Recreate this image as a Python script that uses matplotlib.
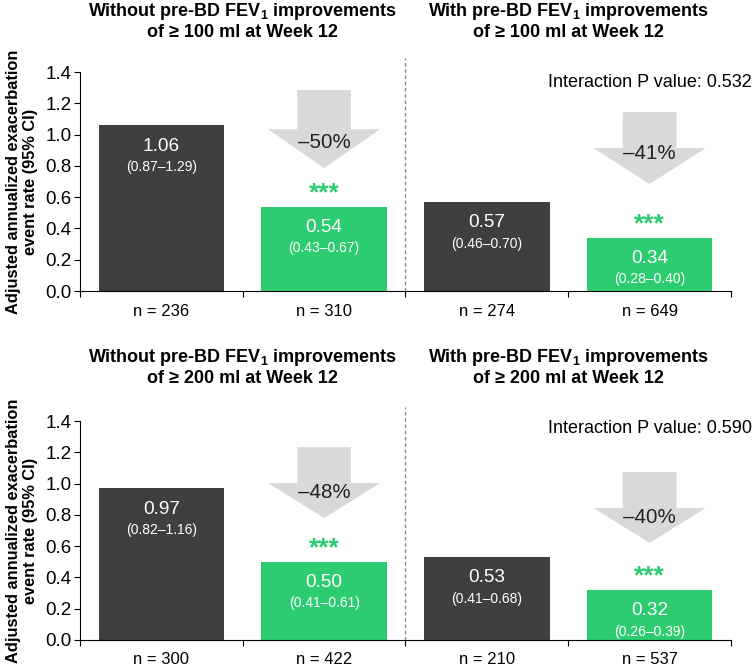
import matplotlib.pyplot as plt
from matplotlib.patches import Polygon

plt.rcParams['font.family'] = ['Liberation Sans', 'DejaVu Sans']
plt.rcParams['mathtext.fontset'] = 'custom'
plt.rcParams['mathtext.rm'] = 'Liberation Sans'
plt.rcParams['mathtext.bf'] = 'Liberation Sans:bold'

# datos de los dos paneles (100 ml arriba, 200 ml abajo)
umbrales = ["100", "200"]
tasas = [[1.06, 0.54, 0.57, 0.34],
         [0.97, 0.50, 0.53, 0.32]]
ic = [["(0.87–1.29)", "(0.43–0.67)", "(0.46–0.70)", "(0.28–0.40)"],
      ["(0.82–1.16)", "(0.41–0.61)", "(0.41–0.68)", "(0.26–0.39)"]]
n_pacientes = [["n = 236", "n = 310", "n = 274", "n = 649"],
               ["n = 300", "n = 422", "n = 210", "n = 537"]]
reducciones = [["–50%", "–41%"], ["–48%", "–40%"]]
p_interaccion = ["0.532", "0.590"]

gris_oscuro = "#3f3f3f"
verde = "#2ecc71"
gris_flecha = "#d9d9d9"
colores = [gris_oscuro, verde, gris_oscuro, verde]

# flechas: (y arriba del tallo, y inicio cabeza, y punta, y texto), una por grupo
flechas = [[(1.285, 1.035, 0.786, 0.952), (1.144, 0.914, 0.684, 0.882)],
           [(1.233, 1.003, 0.780, 0.940), (1.074, 0.844, 0.620, 0.780)]]
estrellas_y = [[0.625, 0.428], [0.588, 0.408]]
p_y = [1.335, 1.355]

fig = plt.figure(figsize=(7.53, 6.67), dpi=100)
posiciones = [[0.1062, 0.5637, 0.8646, 0.3283], [0.1062, 0.0405, 0.8646, 0.3283]]

for k in range(2):
    ax = fig.add_axes(posiciones[k])
    x = [0, 1, 2, 3]
    ax.bar(x, tasas[k], width=0.77, color=colores, zorder=2)
    ax.set_xlim(-0.5, 3.5)
    ax.set_ylim(0, 1.4)
    ax.set_yticks([0, 0.2, 0.4, 0.6, 0.8, 1.0, 1.2, 1.4])
    ax.set_yticklabels([f"{v:.1f}" for v in ax.get_yticks()], fontsize=13.5)
    ax.set_xticks(x)
    ax.set_xticklabels(n_pacientes[k], fontsize=12)
    ax.set_xticks([-0.5, 0.5, 1.5, 2.5, 3.5], minor=True)
    ax.tick_params(axis='x', which='major', length=0, pad=9)
    ax.tick_params(axis='x', which='minor', length=4, width=0.8)
    ax.tick_params(axis='y', length=4, width=0.8, pad=2)
    ax.spines['top'].set_visible(False)
    ax.spines['right'].set_visible(False)
    ax.spines['left'].set_linewidth(0.8)
    ax.spines['bottom'].set_linewidth(0.8)
    ax.set_ylabel("Adjusted annualized exacerbation\nevent rate (95% CI)",
                  fontsize=11.8, fontweight='bold', labelpad=5, linespacing=1.2)

    # etiquetas dentro de las barras
    for i in range(4):
        ax.annotate(f"{tasas[k][i]:.2f}", (x[i], tasas[k][i]), xytext=(0, -15),
                    textcoords='offset points', ha='center', va='center',
                    color='white', fontsize=13.7)
        ax.annotate(ic[k][i], (x[i], tasas[k][i]), xytext=(0, -30),
                    textcoords='offset points', ha='center', va='center',
                    color='white', fontsize=10)

    # linea punteada que separa los grupos
    ax.plot([1.5, 1.5], [0, 1.49], ls=(0, (2.5, 2)), color='#888888', lw=1,
            clip_on=False, zorder=1)

    # flechas de reduccion y estrellas
    for j in range(2):
        cx = x[1 + 2 * j]
        y_top, y_cab, y_punta, y_txt = flechas[k][j]
        t, c = 0.165, 0.345
        puntos = [(cx - t, y_top), (cx + t, y_top), (cx + t, y_cab), (cx + c, y_cab),
                  (cx, y_punta), (cx - c, y_cab), (cx - t, y_cab)]
        ax.add_patch(Polygon(puntos, closed=True, color=gris_flecha, lw=0, zorder=1))
        ax.text(cx, y_txt, reducciones[k][j], ha='center', va='center', fontsize=14.8,
                color='#222222')
        ax.text(cx, estrellas_y[k][j], "***", ha='center', va='center',
                fontsize=19, color=verde, fontweight='bold')

    ax.text(1.032, p_y[k], f"Interaction P value: {p_interaccion[k]}",
            transform=ax.get_yaxis_transform(), ha='right', va='center', fontsize=13)

    # titulos de cada grupo
    y_tit = [1.60, 1.62][k]
    ax.text(0.5, y_tit,
            "Without pre-BD FEV$_\\mathbf{1}$ improvements\nof ≥ " + umbrales[k] + " ml at Week 12",
            ha='center', va='bottom', fontsize=13, fontweight='bold', linespacing=1.15)
    ax.text(2.5, y_tit,
            "With pre-BD FEV$_\\mathbf{1}$ improvements\nof ≥ " + umbrales[k] + " ml at Week 12",
            ha='center', va='bottom', fontsize=13, fontweight='bold', linespacing=1.15)

fig.savefig("out.png", dpi=100)
